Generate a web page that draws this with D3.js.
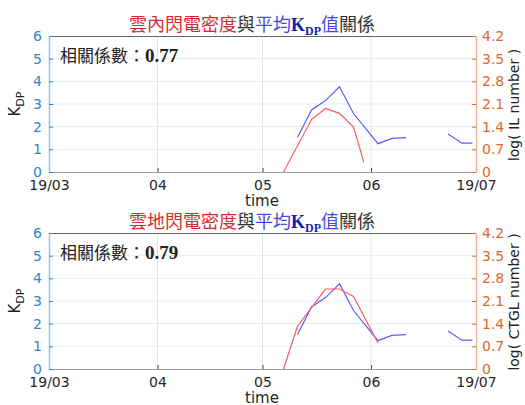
<!DOCTYPE html>
<html>
<head>
<meta charset="utf-8">
<script src="https://cdn.jsdelivr.net/npm/d3@7"></script>
<style>
  body { margin: 0; background: #fff; }
  svg { display: block; }
</style>
</head>
<body>
<div class="chart"></div>
<script>
// data
var monthTicks = ["2019-03-01", "2019-04-01", "2019-05-01", "2019-06-01", "2019-07-01"];
var monthLabels = ["19/03", "04", "05", "06", "19/07"];
var kdpTicks = [0, 1, 2, 3, 4, 5, 6];
var logTicks = [0, 0.7, 1.4, 2.1, 2.8, 3.5, 4.2];

// mean KDP (null = gap)
var kdpDates = ["2019-05-11", "2019-05-15", "2019-05-19", "2019-05-23", "2019-05-27",
                "2019-06-03", "2019-06-07", "2019-06-11", "2019-06-17",
                "2019-06-23", "2019-06-27", "2019-06-30"];
var kdpValues = [1.52, 2.74, 3.15, 3.76, 2.58, 1.25, 1.48, 1.52, null, 1.68, 1.27, 1.27];

// log(IL number)
var ilDates = ["2019-05-07", "2019-05-15", "2019-05-19", "2019-05-23", "2019-05-27", "2019-05-30"];
var ilValues = [0, 1.62, 1.96, 1.81, 1.39, 0.29];

// log(CTGL number)
var ctglDates = ["2019-05-07", "2019-05-11", "2019-05-19", "2019-05-23", "2019-05-27", "2019-06-03"];
var ctglValues = [0, 1.32, 2.47, 2.47, 2.24, 0.80];

var W = 525, H = 405;
var parse = d3.timeParse("%Y-%m-%d");

var svg = d3.select(".chart").append("svg")
    .attr("width", W)
    .attr("height", H);

var x = d3.scaleTime()
    .domain([parse(monthTicks[0]), parse(monthTicks[4])])
    .range([49, 476]);

var panels = [
  {top: 36, title: "雲內閃電密度", corr: "0.77", rlabel: "log( IL number )", dates: ilDates, values: ilValues},
  {top: 233, title: "雲地閃電密度", corr: "0.79", rlabel: "log( CTGL number )", dates: ctglDates, values: ctglValues}
];

var plotH = 136;
var blueTick = "#2f86c8", blueAxis = "#8fc4ea";
var orangeTick = "#e0662e", orangeAxis = "#f3b08c";
var tickFont = "DejaVu Sans, sans-serif";
var cjk = "'Noto Sans CJK TC', sans-serif";

panels.forEach(function(p) {
  var g = svg.append("g").attr("transform", "translate(0," + p.top + ")");
  var y = d3.scaleLinear().domain([0, 6]).range([plotH, 0]);
  var y2 = d3.scaleLinear().domain([0, 4.2]).range([plotH, 0]);

  // grid
  g.selectAll(".hgrid").data(kdpTicks.slice(1, -1)).enter().append("line")
      .attr("x1", x.range()[0]).attr("x2", x.range()[1])
      .attr("y1", function(d) { return y(d); }).attr("y2", function(d) { return y(d); })
      .attr("stroke", "#e2edf8").attr("stroke-width", 1);
  g.selectAll(".vgrid").data(monthTicks.slice(1, -1)).enter().append("line")
      .attr("x1", function(d) { return x(parse(d)); }).attr("x2", function(d) { return x(parse(d)); })
      .attr("y1", 0).attr("y2", plotH)
      .attr("stroke", "#e4e4e4").attr("stroke-width", 1);

  // top border
  g.append("line").attr("x1", 49).attr("x2", 476).attr("y1", 0.5).attr("y2", 0.5)
      .attr("stroke", "#666").attr("stroke-width", 1);

  // bottom axis
  var xAxis = d3.axisBottom(x)
      .tickValues(monthTicks.map(parse))
      .tickFormat(function(d, i) { return monthLabels[i]; })
      .tickSizeInner(-4).tickSizeOuter(0).tickPadding(8);
  var gx = g.append("g").attr("transform", "translate(0," + plotH + ")").call(xAxis);
  gx.select(".domain").attr("stroke", "#9a9a9a");
  gx.selectAll(".tick line").attr("stroke", "#444");
  gx.selectAll(".tick text").attr("fill", "#262626")
      .style("font-family", tickFont).style("font-size", "14px");

  // left axis
  var gl = g.append("g").attr("transform", "translate(49,0)")
      .call(d3.axisLeft(y).tickValues(kdpTicks).tickFormat(d3.format("d"))
        .tickSizeInner(-4).tickSizeOuter(0).tickPadding(7));
  gl.select(".domain").attr("stroke", blueAxis).attr("stroke-width", 1.5);
  gl.selectAll(".tick line").attr("stroke", blueTick);
  gl.selectAll(".tick text").attr("fill", blueTick)
      .style("font-family", tickFont).style("font-size", "14px");

  // right axis
  var gr = g.append("g").attr("transform", "translate(476,0)")
      .call(d3.axisRight(y2).tickValues(logTicks).tickFormat(d3.format(".1~f"))
        .tickSizeInner(-4).tickSizeOuter(0).tickPadding(6));
  gr.select(".domain").attr("stroke", orangeAxis).attr("stroke-width", 1.5);
  gr.selectAll(".tick line").attr("stroke", orangeTick);
  gr.selectAll(".tick text").attr("fill", orangeTick)
      .style("font-family", tickFont).style("font-size", "14px");

  // lines
  var kdpData = kdpDates.map(function(d, i) { return {t: parse(d), v: kdpValues[i]}; });
  var redData = p.dates.map(function(d, i) { return {t: parse(d), v: p.values[i]}; });

  g.append("path").datum(kdpData)
      .attr("fill", "none").attr("stroke", "#5c5cff").attr("stroke-width", 1.2)
      .attr("d", d3.line().defined(function(d) { return d.v != null; })
        .x(function(d) { return x(d.t); }).y(function(d) { return y(d.v); }));
  g.append("path").datum(redData)
      .attr("fill", "none").attr("stroke", "#ff5a5a").attr("stroke-width", 1.2)
      .attr("d", d3.line().x(function(d) { return x(d.t); }).y(function(d) { return y2(d.v); }));

  // title
  var t = g.append("text").attr("x", 252).attr("y", -5)
      .attr("text-anchor", "middle").style("font-size", "18px").style("font-family", cjk);
  t.append("tspan").attr("fill", "#d42a32").text(p.title);
  t.append("tspan").attr("fill", "#333").text("與");
  t.append("tspan").attr("fill", "#4848e0").text("平均");
  t.append("tspan").attr("fill", "#1c1ca8").style("font-family", "Liberation Serif, serif")
      .style("font-weight", "bold").text("K");
  t.append("tspan").attr("fill", "#1c1ca8").style("font-family", "Liberation Serif, serif")
      .style("font-weight", "bold").style("font-size", "12px").attr("dy", 4).text("DP");
  t.append("tspan").attr("fill", "#4848e0").attr("dy", -4).text("值");
  t.append("tspan").attr("fill", "#333").text("關係");

  // correlation
  var c = g.append("text").attr("x", 60).attr("y", 26)
      .style("font-size", "17px").style("font-family", cjk).attr("fill", "#222");
  c.append("tspan").text("相關係數：");
  c.append("tspan").style("font-family", "Liberation Serif, serif").style("font-weight", "bold")
      .style("font-size", "19px").text(p.corr);

  // axis labels
  var yl = g.append("text").attr("transform", "translate(20," + (plotH / 2) + ") rotate(-90)")
      .attr("text-anchor", "middle").style("font-family", tickFont).style("font-size", "15px")
      .attr("fill", "#222");
  yl.append("tspan").text("K");
  yl.append("tspan").attr("dy", 4).style("font-size", "11px").text("DP");

  g.append("text").attr("transform", "translate(519," + (plotH / 2 + 1) + ") rotate(-90)")
      .attr("text-anchor", "middle").style("font-family", tickFont).style("font-size", "14px")
      .attr("fill", "#222").text(p.rlabel);

  g.append("text").attr("x", 262).attr("y", plotH + 34)
      .attr("text-anchor", "middle").style("font-family", tickFont).style("font-size", "15px")
      .attr("fill", "#262626").text("time");
});
</script>
</body>
</html>
